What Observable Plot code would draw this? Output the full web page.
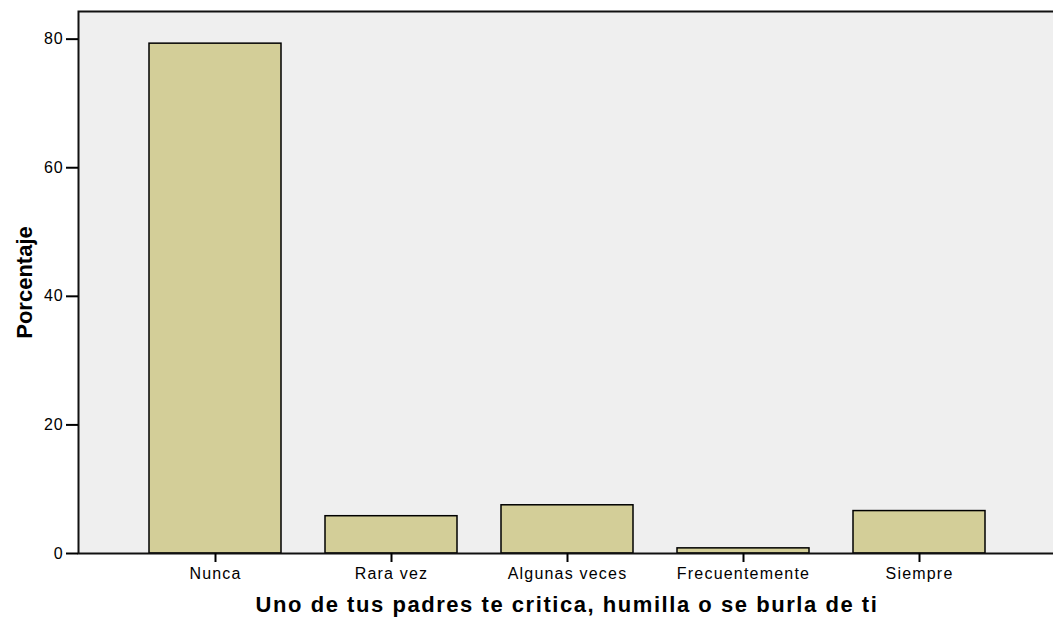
<!DOCTYPE html>
<html>
<head>
<meta charset="utf-8">
<script src="https://cdn.jsdelivr.net/npm/d3@7"></script>
<script src="https://cdn.jsdelivr.net/npm/@observablehq/plot@0.6"></script>
<style>
  html, body { margin: 0; padding: 0; background: #fff; overflow: hidden; }
  #chart { width: 1053px; height: 619px; overflow: hidden; }
  #chart svg { max-width: none !important; }
</style>
</head>
<body>
<div id="chart"></div>
<script>
const categories = ["Nunca", "Rara vez", "Algunas veces", "Frecuentemente", "Siempre"];
const percentages = [79.3, 5.8, 7.5, 0.8, 6.6];
const yTicks = [0, 20, 40, 60, 80];
const xTitle = "Uno de tus padres te critica, humilla o se burla de ti";
const yTitle = "Porcentaje";

const data = categories.map((c, i) => ({category: c, value: percentages[i]}));

const chart = Plot.plot({
  width: 1056,
  height: 619,
  marginLeft: 78,
  marginRight: 1,
  marginTop: 11,
  marginBottom: 66,
  style: {fontFamily: "Arial, 'Liberation Sans', sans-serif", background: "#ffffff", color: "#000", maxWidth: "none"},
  x: {domain: categories, paddingInner: 0.25, paddingOuter: 0.4, label: null},
  y: {domain: [0, 84.3], label: null},
  marks: [
    Plot.frame({fill: "#efefef"}),
    Plot.barY(data, {x: "category", y: "value", fill: "#d3ce98", stroke: "#000", strokeWidth: 1.5}),
    Plot.frame({stroke: "#111", strokeWidth: 2}),
    Plot.axisY({ticks: yTicks, tickSize: 12, tickPadding: 3, tickFormat: d => String(d), fontSize: 16, stroke: "#000", strokeWidth: 2, label: null}),
    Plot.axisX({tickSize: 9, tickPadding: 5, fontSize: 16, stroke: "#000", strokeWidth: 2, label: null}),
    Plot.text([xTitle], {frameAnchor: "bottom", dy: 51, lineAnchor: "middle", textAnchor: "middle", fontSize: 22, fontWeight: "bold"}),
    Plot.text([yTitle], {frameAnchor: "left", dx: -54, rotate: -90, lineAnchor: "middle", textAnchor: "middle", fontSize: 22, fontWeight: "bold"})
  ]
});

chart.style.maxWidth = "none";

// Match the slightly wide glyph proportions of the original
d3.select(chart).selectAll("g[aria-label='x-axis tick label'] text").attr("letter-spacing", "1.2px");
d3.select(chart).selectAll("g[aria-label='y-axis tick label'] text").attr("letter-spacing", "0.8px");
d3.select(chart).selectAll("g[aria-label='text'] text").filter(function() { return this.textContent === xTitle; }).attr("letter-spacing", "1.55px");

document.getElementById("chart").appendChild(chart);
</script>
</body>
</html>
